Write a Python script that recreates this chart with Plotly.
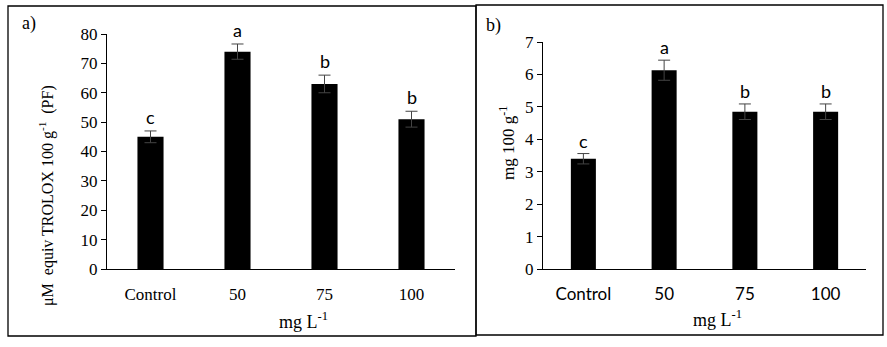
import plotly.graph_objects as go

W, H = 887, 347

categories = ["Control", "50", "75", "100"]
a_values = [45, 74, 63, 51]
a_errors = [2.0, 2.6, 3.0, 2.7]
a_letters = ["c", "a", "b", "b"]
a_yticks = [0, 10, 20, 30, 40, 50, 60, 70, 80]

b_values = [3.40, 6.13, 4.85, 4.85]
b_errors = [0.16, 0.31, 0.24, 0.24]
b_letters = ["c", "a", "b", "b"]
b_yticks = [0, 1, 2, 3, 4, 5, 6, 7]

SERIF = "Liberation Serif"
SANS = "Lato"


def px(x):
    return x / W


def py(y):
    return 1 - y / H


fig = go.Figure()

err_style = dict(type="data", color="#444", thickness=1, width=6)
idx = list(range(len(categories)))

fig.add_trace(go.Bar(
    x=idx, y=a_values, width=0.3, marker=dict(color="black", line=dict(width=0)),
    error_y=dict(array=a_errors, **err_style), xaxis="x", yaxis="y", showlegend=False))
fig.add_trace(go.Bar(
    x=idx, y=b_values, width=0.31, marker=dict(color="black", line=dict(width=0)),
    error_y=dict(array=b_errors, **err_style), xaxis="x2", yaxis="y2", showlegend=False))

annotations = []
for i, v, e, l in zip(idx, a_values, a_errors, a_letters):
    annotations.append(dict(x=i, y=v + e, xref="x", yref="y", text=l, showarrow=False,
                            xanchor="center", yanchor="middle", yshift=14,
                            font=dict(family=SANS, size=18, color="black")))
for i, v, e, l in zip(idx, b_values, b_errors, b_letters):
    annotations.append(dict(x=i, y=v + e, xref="x2", yref="y2", text=l, showarrow=False,
                            xanchor="center", yanchor="middle", yshift=13,
                            font=dict(family=SANS, size=18, color="black")))


def label(x, y, text, size, angle=0):
    return dict(x=px(x), y=py(y), xref="paper", yref="paper", text=text, showarrow=False,
                xanchor="center", yanchor="middle", textangle=angle,
                font=dict(family=SERIF, size=size, color="black"))


annotations += [
    label(303, 320, "mg L<sup>-1</sup>", 18),
    label(717, 318, "mg L<sup>-1</sup>", 18),
    label(46, 196, "\u03bcM\u00a0 equiv TROLOX 100 g<sup>-1</sup>\u00a0 (PF)", 16, -90),
    label(507, 143, "mg 100 g<sup>-1</sup>", 17, -90),
    label(29, 24, "a)", 18),
    label(494, 25, "b)", 18),
]

shapes = [
    dict(type="rect", xref="paper", yref="paper", x0=px(8), x1=px(476), y0=py(336), y1=py(6),
         line=dict(color="black", width=1.3)),
    dict(type="rect", xref="paper", yref="paper", x0=px(476), x1=px(883), y0=py(335), y1=py(5),
         line=dict(color="black", width=1.3)),
]

xcommon = dict(range=[-0.5, 3.5], showline=True, linecolor="black", linewidth=1,
               ticks="", showgrid=False, zeroline=False, ticklabelstandoff=10,
               tickmode="array", tickvals=idx, ticktext=categories, automargin=False)
ycommon = dict(showline=True, linecolor="black", linewidth=1, ticks="outside", ticklen=5,
               tickcolor="black", showgrid=False, zeroline=False, automargin=False,
               tickfont=dict(family=SERIF, size=17, color="black"))

fig.update_layout(
    template="none",
    width=W, height=H, margin=dict(l=0, r=0, t=0, b=0, pad=0, autoexpand=False),
    paper_bgcolor="white", plot_bgcolor="white", bargap=0.7,
    xaxis=dict(domain=[px(107), px(455)], anchor="y",
               tickfont=dict(family=SERIF, size=17, color="black"), **xcommon),
    yaxis=dict(domain=[py(269), py(34)], range=[0, 80], tickvals=a_yticks, anchor="x", **ycommon),
    xaxis2=dict(domain=[px(543), px(866)], anchor="y2",
                tickfont=dict(family=SANS, size=17, color="black"), **xcommon),
    yaxis2=dict(domain=[py(269), py(42)], range=[0, 7], tickvals=b_yticks, anchor="x2", **ycommon),
    annotations=annotations, shapes=shapes,
)

fig.write_html("out.html")
